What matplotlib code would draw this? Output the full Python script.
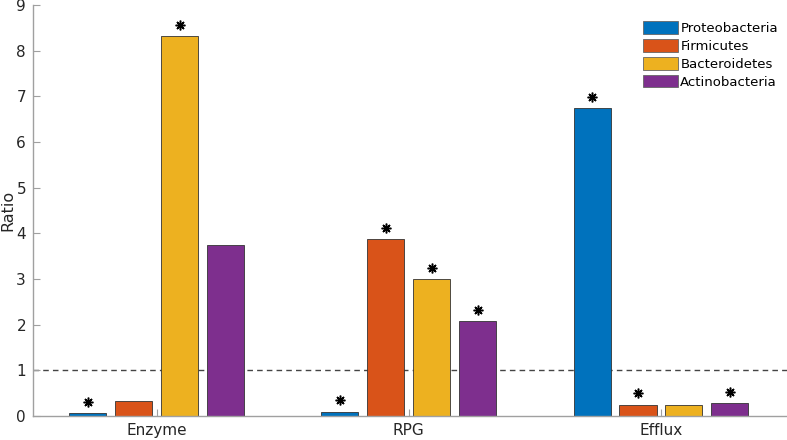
import numpy as np
import matplotlib
matplotlib.use('Agg')
import matplotlib.pyplot as plt

# data
categories = ['Enzyme', 'RPG', 'Efflux']
phyla = ['Proteobacteria', 'Firmicutes', 'Bacteroidetes', 'Actinobacteria']
colors = ['#0072BD', '#D95319', '#EDB120', '#7E2F8E']
proteobacteria = [0.06, 0.09, 6.74]
firmicutes = [0.33, 3.87, 0.25]
bacteroidetes = [8.32, 3.00, 0.23]
actinobacteria = [3.74, 2.08, 0.28]
# significance flags (1 = asterisk above bar)
sig_proteo = [1, 1, 1]
sig_firm = [0, 1, 1]
sig_bact = [1, 1, 0]
sig_actino = [0, 1, 1]

series = [proteobacteria, firmicutes, bacteroidetes, actinobacteria]
sigs = [sig_proteo, sig_firm, sig_bact, sig_actino]

plt.rcParams['font.family'] = ['DejaVu Sans']
fig = plt.figure(figsize=(7.87, 4.4), dpi=100)
ax = fig.add_axes([33 / 787, 24 / 440, 754 / 787, 411 / 440])

x = np.arange(1, len(categories) + 1)
step = 0.182
width = 0.147
for i, (vals, sig) in enumerate(zip(series, sigs)):
    pos = x + (i - 1.5) * step
    ax.bar(pos, vals, width, color=colors[i], edgecolor='#333333',
           linewidth=0.6, label=phyla[i], zorder=2)
    for p, v, s in zip(pos, vals, sig):
        if s:
            ax.plot(p, v + 0.25, marker=(8, 2, 0), color='black',
                    markersize=7, markeredgewidth=1.1, zorder=3)

ax.axhline(1, color='#444444', linestyle=(0, (4, 3)), linewidth=1, zorder=1)

ax.set_xlim(0.51, 3.5)
ax.set_ylim(0, 9)
ax.set_xticks(x)
ax.set_xticklabels(categories)
ax.set_yticks(range(0, 10))
ax.set_ylabel('Ratio', fontsize=11.5, color='#262626')
ax.yaxis.set_label_coords(-0.024, 0.5)

for side in ['top', 'right']:
    ax.spines[side].set_visible(False)
for side in ['left', 'bottom']:
    ax.spines[side].set_color('#a0a0a0')
    ax.spines[side].set_linewidth(1)
ax.tick_params(direction='in', length=5, color='#a0a0a0', pad=5,
               labelsize=11, labelcolor='#262626')

leg = ax.legend(loc='upper right', bbox_to_anchor=(0.995, 0.973), frameon=False,
                fontsize=9.5, handlelength=2.6, handleheight=1.1,
                labelspacing=0.3, handletextpad=0.2, borderaxespad=0)
for h in leg.legend_handles:
    h.set_edgecolor('#666666')

fig.savefig('out.png', dpi=100)
